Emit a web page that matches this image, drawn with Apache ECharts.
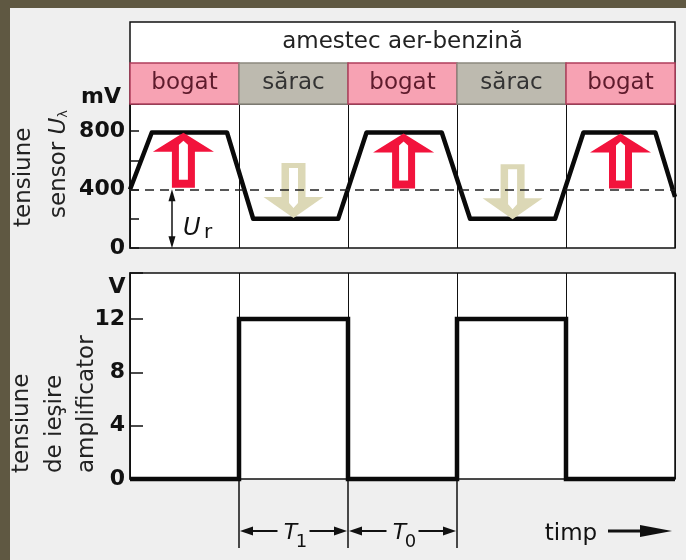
<!DOCTYPE html>
<html>
<head>
<meta charset="utf-8">
<script src="https://cdn.jsdelivr.net/npm/echarts@6/dist/echarts.min.js"></script>
<style>
html, body { margin: 0; padding: 0; background: #efefef; }
#main { width: 686px; height: 560px; }
</style>
</head>
<body>
<div id="main"></div>
<script>
var FONT = 'DejaVu Sans';

// amestec aer-benzina (header row)
var headerTitle = 'amestec aer-benzină';
var bandLabels = ['bogat', 'sărac', 'bogat', 'sărac', 'bogat'];
var bandKinds = ['bogat', 'sarac', 'bogat', 'sarac', 'bogat'];

// tensiune sensor (mV) over timp (one unit = one cell)
var sensorT = [0, 0.20, 0.89, 1.13, 1.91, 2.17, 2.86, 3.12, 3.90, 4.16, 4.82, 5.0];
var sensorMv = [400, 790, 790, 200, 200, 790, 790, 200, 200, 790, 790, 350];
var sensorTicks = [0, 400, 800];
var refMv = 400; // U r

// tensiune de iesire amplificator (V)
var ampT = [0, 1, 1, 2, 2, 3, 3, 4, 4, 5];
var ampV = [0, 0, 12, 12, 0, 0, 12, 12, 0, 0];
var ampTicks = [0, 4, 8, 12];

// big hollow arrows (t, mV)
var upArrows = [[0.49, 600], [2.51, 595], [4.50, 595]];
var downArrows = [[1.50, 393], [3.51, 385]];

var upPath = 'path://M30.5 0 L61 19 L42 19 L42 55 L19 55 L19 19 L0 19 Z M26 12 L26 47 L35 47 L35 12 L30.5 8 Z';
var downPath = 'path://M18 0 L42 0 L42 34 L60 34 L30 55 L0 34 L18 34 Z M25.5 5 L25.5 40 L30 45 L34.5 40 L34.5 5 Z';

function zip(xs, ys) {
    return xs.map(function (x, i) { return [x, ys[i]]; });
}

var gridBase = {
    left: 130, right: 11, show: true, backgroundColor: '#fff',
    borderColor: '#111', borderWidth: 1.5
};

var timeAxis = function (idx) {
    return {
        type: 'value', gridIndex: idx, min: 0, max: 5, interval: 1,
        axisLine: { show: false }, axisTick: { show: false }, axisLabel: { show: false },
        splitLine: { show: idx > 0, lineStyle: { color: '#111', width: 1 } }
    };
};

var labelStyle = {
    fontSize: 22, fontWeight: 'bold', fontFamily: FONT, color: '#111', margin: 5
};

var option = {
    backgroundColor: '#efefef',
    animation: false,
    grid: [
        Object.assign({ top: 22, height: 82 }, gridBase),
        Object.assign({ top: 104, height: 144 }, gridBase),
        Object.assign({ top: 273, height: 206 }, gridBase)
    ],
    xAxis: [timeAxis(0), timeAxis(1), timeAxis(2)],
    yAxis: [
        { type: 'value', gridIndex: 0, min: 0, max: 2, show: false },
        {
            type: 'value', gridIndex: 1, min: 0, max: 985, interval: 200,
            axisLine: { show: true, lineStyle: { color: '#111', width: 1.5 } },
            axisTick: { show: true, inside: true, length: 9, lineStyle: { color: '#111', width: 1.5 } },
            axisLabel: Object.assign({
                formatter: function (v) { return sensorTicks.indexOf(v) >= 0 ? String(v) : ''; }
            }, labelStyle),
            splitLine: { show: false }
        },
        {
            type: 'value', gridIndex: 2, min: 0, max: 15.45, interval: 4,
            axisLine: { show: true, lineStyle: { color: '#111', width: 1.5 } },
            axisTick: { show: true, inside: true, length: 13, lineStyle: { color: '#111', width: 1.5 } },
            axisLabel: Object.assign({
                formatter: function (v) { return ampTicks.indexOf(v) >= 0 ? String(v) : ''; }
            }, labelStyle),
            splitLine: { show: false }
        }
    ],
    series: [
        {
            type: 'custom', xAxisIndex: 0, yAxisIndex: 0, silent: true,
            data: bandLabels.map(function (l, i) { return [i, i + 1]; }),
            renderItem: function (params, api) {
                var i = params.dataIndex;
                var a = api.coord([api.value(0), 1]);
                var b = api.coord([api.value(1), 0]);
                var sarac = bandKinds[i] === 'sarac';
                return {
                    type: 'group',
                    children: [{
                        type: 'rect',
                        shape: { x: a[0], y: a[1], width: b[0] - a[0], height: b[1] - a[1] },
                        style: {
                            fill: sarac ? '#bdbaaf' : '#f7a2b3',
                            stroke: sarac ? '#8c897f' : '#b03e5c', lineWidth: 1.5
                        }
                    }, {
                        type: 'text', x: (a[0] + b[0]) / 2, y: (a[1] + b[1]) / 2,
                        style: {
                            text: bandLabels[i], fontSize: 23, fontFamily: FONT,
                            fill: sarac ? '#333' : '#5e1b2c', align: 'center', verticalAlign: 'middle'
                        }
                    }]
                };
            }
        },
        {
            type: 'custom', xAxisIndex: 0, yAxisIndex: 0, silent: true,
            data: [[2.5, 1.5]],
            renderItem: function (params, api) {
                var p = api.coord([api.value(0), api.value(1)]);
                return {
                    type: 'text', x: p[0], y: p[1],
                    style: {
                        text: headerTitle, fontSize: 23, fontFamily: FONT, fill: '#222',
                        align: 'center', verticalAlign: 'middle'
                    }
                };
            }
        },
        {
            name: 'sensor', type: 'line', xAxisIndex: 1, yAxisIndex: 1,
            data: zip(sensorT, sensorMv), symbol: 'none', clip: false, z: 3,
            lineStyle: { color: '#0a0a0a', width: 4.5, join: 'round' },
            markLine: {
                silent: true, symbol: 'none', label: { show: false },
                lineStyle: { type: [9, 6], color: '#222', width: 1.5 },
                data: [{ yAxis: refMv }]
            }
        },
        {
            type: 'scatter', xAxisIndex: 1, yAxisIndex: 1, z: 4,
            data: upArrows, symbol: upPath, symbolSize: [61, 55],
            itemStyle: { color: '#f2133c', opacity: 1 },
            markLine: {
                silent: true, symbol: ['triangle', 'triangle'], symbolSize: [7, 12],
                label: { show: false },
                lineStyle: { type: 'solid', color: '#111', width: 1.5 },
                data: [[{ coord: [0.385, 40] }, { coord: [0.385, refMv - 40] }]]
            }
        },
        {
            type: 'scatter', xAxisIndex: 1, yAxisIndex: 1, z: 4,
            data: downArrows, symbol: downPath, symbolSize: [60, 55],
            itemStyle: { color: '#dcd8b6', opacity: 1 }
        },
        {
            name: 'amplificator', type: 'line', xAxisIndex: 2, yAxisIndex: 2,
            data: zip(ampT, ampV), symbol: 'none', clip: false, z: 3,
            lineStyle: { color: '#0a0a0a', width: 4.5, join: 'miter' }
        }
    ]
};

var chart = echarts.init(document.getElementById('main'));
chart.setOption(option);

// annotations placed from the axes
function px(t, v) {
    return chart.convertToPixel({ xAxisIndex: 2, yAxisIndex: 2 }, [t, v]);
}
var dimY = 531;
var g = [
    { type: 'rect', shape: { x: 0, y: 0, width: 10, height: 560 }, style: { fill: '#5f5842' } },
    { type: 'rect', shape: { x: 0, y: 0, width: 686, height: 8 }, style: { fill: '#5f5842' } },
    { type: 'text', x: 101, y: 97, style: { text: 'mV', fontSize: 22, fontWeight: 'bold', fontFamily: FONT, fill: '#111', align: 'center', verticalAlign: 'middle' } },
    { type: 'text', x: 117, y: 287, style: { text: 'V', fontSize: 22, fontWeight: 'bold', fontFamily: FONT, fill: '#111', align: 'center', verticalAlign: 'middle' } },
    { type: 'text', x: 24, y: 227, rotation: Math.PI / 2, style: { text: 'tensiune', fontSize: 23, fontFamily: FONT, fill: '#222', align: 'left', verticalAlign: 'middle' } },
    {
        type: 'text', x: 59, y: 218, rotation: Math.PI / 2,
        style: {
            text: 'sensor {u|U}{l|λ}', fontSize: 23, fontFamily: FONT, fill: '#222', align: 'left', verticalAlign: 'middle',
            rich: {
                u: { fontSize: 23, fontStyle: 'italic', fontFamily: FONT, fill: '#222' },
                l: { fontSize: 13, fontFamily: FONT, fill: '#222', verticalAlign: 'bottom', padding: [6, 0, 0, 0] }
            }
        }
    },
    { type: 'text', x: 22, y: 473, rotation: Math.PI / 2, style: { text: 'tensiune', fontSize: 23, fontFamily: FONT, fill: '#222', align: 'left', verticalAlign: 'middle' } },
    { type: 'text', x: 55, y: 473, rotation: Math.PI / 2, style: { text: 'de ieşire', fontSize: 23, fontFamily: FONT, fill: '#222', align: 'left', verticalAlign: 'middle' } },
    { type: 'text', x: 87, y: 473, rotation: Math.PI / 2, style: { text: 'amplificator', fontSize: 23, fontFamily: FONT, fill: '#222', align: 'left', verticalAlign: 'middle' } },
    { type: 'text', x: 183, y: 229, style: { text: 'U', fontSize: 24, fontStyle: 'italic', fontFamily: FONT, fill: '#111', align: 'left', verticalAlign: 'middle' } },
    { type: 'text', x: 204, y: 233, style: { text: 'r', fontSize: 20, fontFamily: FONT, fill: '#111', align: 'left', verticalAlign: 'middle' } },
    { type: 'text', x: 571, y: 534, style: { text: 'timp', fontSize: 23, fontFamily: FONT, fill: '#111', align: 'center', verticalAlign: 'middle' } },
    { type: 'line', shape: { x1: 608, y1: dimY, x2: 642, y2: dimY }, style: { stroke: '#111', lineWidth: 3 } },
    { type: 'polygon', shape: { points: [[640, 525], [672, dimY], [640, 537]] }, style: { fill: '#111' } }
];

[1, 2, 3].forEach(function (t) {
    var p = px(t, 0);
    g.push({ type: 'line', shape: { x1: p[0], y1: p[1], x2: p[0], y2: 548 }, style: { stroke: '#111', lineWidth: 1.5 } });
});

function dim(t0, t1, sub) {
    var a = px(t0, 0)[0], b = px(t1, 0)[0], m = (a + b) / 2;
    g.push({ type: 'polygon', shape: { points: [[a + 1, dimY], [a + 14, dimY - 4.5], [a + 14, dimY + 4.5]] }, style: { fill: '#111' } });
    g.push({ type: 'line', shape: { x1: a + 12, y1: dimY, x2: m - 16, y2: dimY }, style: { stroke: '#111', lineWidth: 2 } });
    g.push({ type: 'polygon', shape: { points: [[b - 1, dimY], [b - 14, dimY - 4.5], [b - 14, dimY + 4.5]] }, style: { fill: '#111' } });
    g.push({ type: 'line', shape: { x1: m + 16, y1: dimY, x2: b - 12, y2: dimY }, style: { stroke: '#111', lineWidth: 2 } });
    g.push({ type: 'text', x: m - 3, y: 533, style: { text: 'T', fontSize: 22, fontStyle: 'italic', fontFamily: FONT, fill: '#111', align: 'center', verticalAlign: 'middle' } });
    g.push({ type: 'text', x: m + 8, y: 542, style: { text: sub, fontSize: 18, fontFamily: FONT, fill: '#111', align: 'center', verticalAlign: 'middle' } });
}
dim(1, 2, '1');
dim(2, 3, '0');

chart.setOption({ graphic: g });
</script>
</body>
</html>
